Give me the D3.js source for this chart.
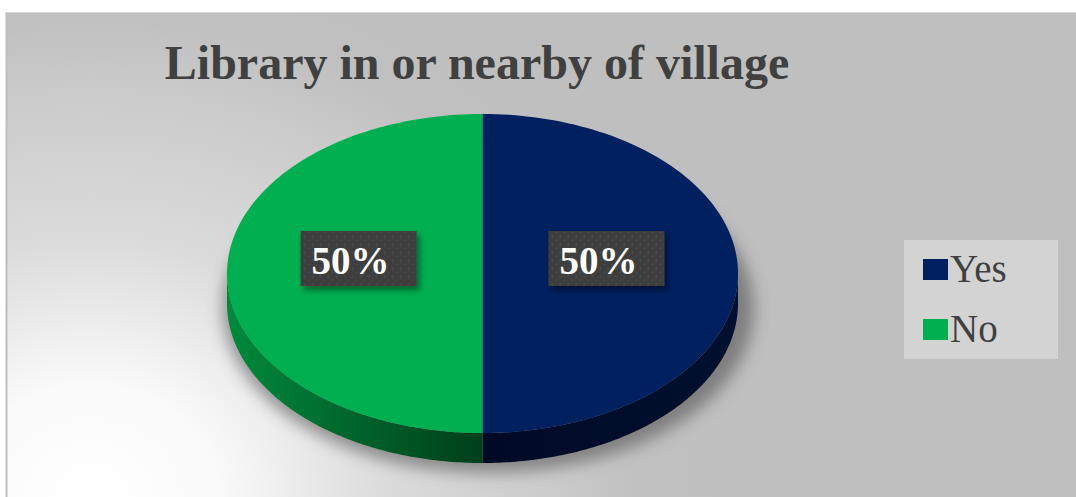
<!DOCTYPE html>
<html>
<head>
<meta charset="utf-8">
<script src="https://cdn.jsdelivr.net/npm/d3@7/dist/d3.min.js"></script>
<style>
  html, body { margin: 0; padding: 0; background: #ffffff; }
  svg { display: block; }
</style>
</head>
<body>
<svg id="chart" width="1076" height="497"></svg>
<script>
// Survey answers: is there a library in or near the village?
const title = "Library in or nearby of village";
const categories = ["Yes", "No"];
const shares = [50, 50];
const sliceColors = ["#002060", "#00b050"];

const W = 1076, H = 497;
const svg = d3.select("#chart");
const defs = svg.append("defs");

// ---- background panel with soft light corner ----
const bg = defs.append("radialGradient").attr("id", "bgGrad")
  .attr("gradientUnits", "userSpaceOnUse")
  .attr("cx", 90).attr("cy", 497).attr("r", 560)
  .attr("gradientTransform", "translate(90,497) scale(1.15,1) translate(-90,-497)");
[[0, "#ffffff"], [0.2, "#fafafa"], [0.45, "#dcdcdc"], [0.72, "#cbcbcb"], [0.86, "#c0c0c0"], [1, "#bfbfbf"]]
  .forEach(([o, c]) => bg.append("stop").attr("offset", o).attr("stop-color", c));

svg.append("rect").attr("x", 6).attr("y", 12).attr("width", W - 6).attr("height", H - 12)
  .attr("fill", "url(#bgGrad)");
svg.append("line").attr("x1", 6.5).attr("x2", 6.5).attr("y1", 12).attr("y2", H)
  .attr("stroke", "#bdbdbd").attr("stroke-width", 2);
svg.append("line").attr("x1", 6).attr("x2", W).attr("y1", 12.5).attr("y2", 12.5)
  .attr("stroke", "#d9d9d9").attr("stroke-width", 1);

// ---- title ----
svg.append("text")
  .attr("x", 477).attr("y", 79)
  .attr("text-anchor", "middle")
  .attr("font-family", "'Liberation Serif', 'Times New Roman', serif")
  .attr("font-weight", "bold")
  .attr("font-size", 48)
  .attr("fill", "#404040")
  .text(title);

// ---- 3D pie ----
const cx = 482.5, cy = 273.5, rx = 255.5, ry = 159.5, depth = 30;

const pie = d3.pie().sort(null).value(d => d.value);
const arcs = pie(categories.map((c, i) => ({ name: c, value: shares[i], color: sliceColors[i] })));

const px = a => cx + rx * Math.sin(a);
const py = (a, dz = 0) => cy - ry * Math.cos(a) + dz;

function topPath(d) {
  const p = d3.path();
  p.moveTo(cx, cy);
  p.lineTo(px(d.startAngle), py(d.startAngle));
  const n = 120;
  for (let k = 1; k <= n; k++) {
    const a = d.startAngle + (d.endAngle - d.startAngle) * k / n;
    p.lineTo(px(a), py(a));
  }
  p.closePath();
  return p.toString();
}

// outer wall of a slice, only the front half (angles between pi/2 and 3pi/2) is seen
function sidePath(d) {
  const a0 = Math.max(d.startAngle, Math.PI / 2);
  const a1 = Math.min(d.endAngle, 3 * Math.PI / 2);
  if (a1 <= a0) return null;
  const n = 120, p = d3.path();
  p.moveTo(px(a0), py(a0));
  for (let k = 1; k <= n; k++) {
    const a = a0 + (a1 - a0) * k / n;
    p.lineTo(px(a), py(a));
  }
  for (let k = n; k >= 0; k--) {
    const a = a0 + (a1 - a0) * k / n;
    p.lineTo(px(a), py(a, depth));
  }
  p.closePath();
  return p.toString();
}

// soft shadow under the disc
const blur = defs.append("filter").attr("id", "pieShadow")
  .attr("x", "-20%").attr("y", "-20%").attr("width", "140%").attr("height", "140%");
blur.append("feGaussianBlur").attr("stdDeviation", 8);

svg.append("ellipse")
  .attr("cx", cx + 6).attr("cy", cy + depth + 5)
  .attr("rx", rx + 10).attr("ry", ry + 5)
  .attr("fill", "#4a4a4a").attr("opacity", 0.55)
  .attr("filter", "url(#pieShadow)");

// wall shading
const sideGrad = {
  Yes: [["0%", "#000a26"], ["100%", "#00102e"]],
  No: [["0%", "#008a3c"], ["100%", "#003f1a"]]
};
arcs.forEach(d => {
  const g = defs.append("linearGradient").attr("id", "side" + d.data.name)
    .attr("gradientUnits", "userSpaceOnUse")
    .attr("x1", d.data.name === "No" ? cx - rx : cx).attr("x2", d.data.name === "No" ? cx : cx + rx)
    .attr("y1", 0).attr("y2", 0);
  sideGrad[d.data.name].forEach(([o, c]) => g.append("stop").attr("offset", o).attr("stop-color", c));
});

const pieG = svg.append("g");
pieG.selectAll("path.side")
  .data(arcs.filter(d => sidePath(d)))
  .join("path")
  .attr("class", "side")
  .attr("d", sidePath)
  .attr("fill", d => `url(#side${d.data.name})`);

pieG.selectAll("path.top")
  .data(arcs)
  .join("path")
  .attr("class", "top")
  .attr("d", topPath)
  .attr("fill", d => d.data.color);

// thin seam between the slices on the top face
pieG.append("line")
  .attr("x1", cx).attr("x2", cx)
  .attr("y1", cy - ry).attr("y2", cy + ry)
  .attr("stroke", "#1f6a6a").attr("stroke-width", 1).attr("opacity", 0.6);

// ---- value labels ----
const pat = defs.append("pattern").attr("id", "labelTex")
  .attr("patternUnits", "userSpaceOnUse").attr("width", 8).attr("height", 8);
pat.append("rect").attr("width", 8).attr("height", 8).attr("fill", "#3e3e3e");
pat.append("circle").attr("cx", 2).attr("cy", 2).attr("r", 1.2).attr("fill", "#4a4a4a");
pat.append("circle").attr("cx", 6).attr("cy", 6).attr("r", 1.2).attr("fill", "#464646");

const boxShadow = defs.append("filter").attr("id", "boxShadow")
  .attr("x", "-30%").attr("y", "-30%").attr("width", "160%").attr("height", "160%");
boxShadow.append("feGaussianBlur").attr("in", "SourceAlpha").attr("stdDeviation", 3).attr("result", "b");
boxShadow.append("feOffset").attr("in", "b").attr("dx", 3).attr("dy", 4).attr("result", "o");
boxShadow.append("feComponentTransfer").attr("in", "o").attr("result", "s")
  .append("feFuncA").attr("type", "linear").attr("slope", 0.45);
const bm = boxShadow.append("feMerge");
bm.append("feMergeNode").attr("in", "s");
bm.append("feMergeNode").attr("in", "SourceGraphic");

const labelArc = d3.arc().innerRadius(0).outerRadius(1);
const boxW = 116, boxH = 55;
const labels = svg.append("g").selectAll("g")
  .data(arcs)
  .join("g")
  .attr("transform", d => {
    const [ux, uy] = labelArc.centroid(d);
    return `translate(${cx + ux * rx * 0.97},${cy + uy * ry - 15})`;
  });
labels.append("rect")
  .attr("x", -boxW / 2).attr("y", -boxH / 2)
  .attr("width", boxW).attr("height", boxH)
  .attr("fill", "url(#labelTex)")
  .attr("filter", "url(#boxShadow)");
labels.append("text")
  .attr("x", -boxW / 2 + 11).attr("y", 15)
  .attr("font-family", "'Liberation Serif', 'Times New Roman', serif")
  .attr("font-weight", "bold")
  .attr("font-size", 39)
  .attr("fill", "#ffffff")
  .text(d => d3.format(".0%")(d.value / d3.sum(shares)));

// ---- legend ----
const legend = svg.append("g");
legend.append("rect")
  .attr("x", 904).attr("y", 240).attr("width", 154).attr("height", 119)
  .attr("fill", "#d3d3d3");
const rows = legend.selectAll("g.row")
  .data(categories)
  .join("g")
  .attr("class", "row")
  .attr("transform", (d, i) => `translate(923,${259 + i * 60})`);
rows.append("rect")
  .attr("width", 25).attr("height", 21)
  .attr("fill", (d, i) => sliceColors[i]);
rows.append("text")
  .attr("x", 27).attr("y", 22.5)
  .attr("font-family", "'Liberation Serif', 'Times New Roman', serif")
  .attr("font-size", 39)
  .attr("fill", "#404040")
  .text(d => d);
</script>
</body>
</html>
